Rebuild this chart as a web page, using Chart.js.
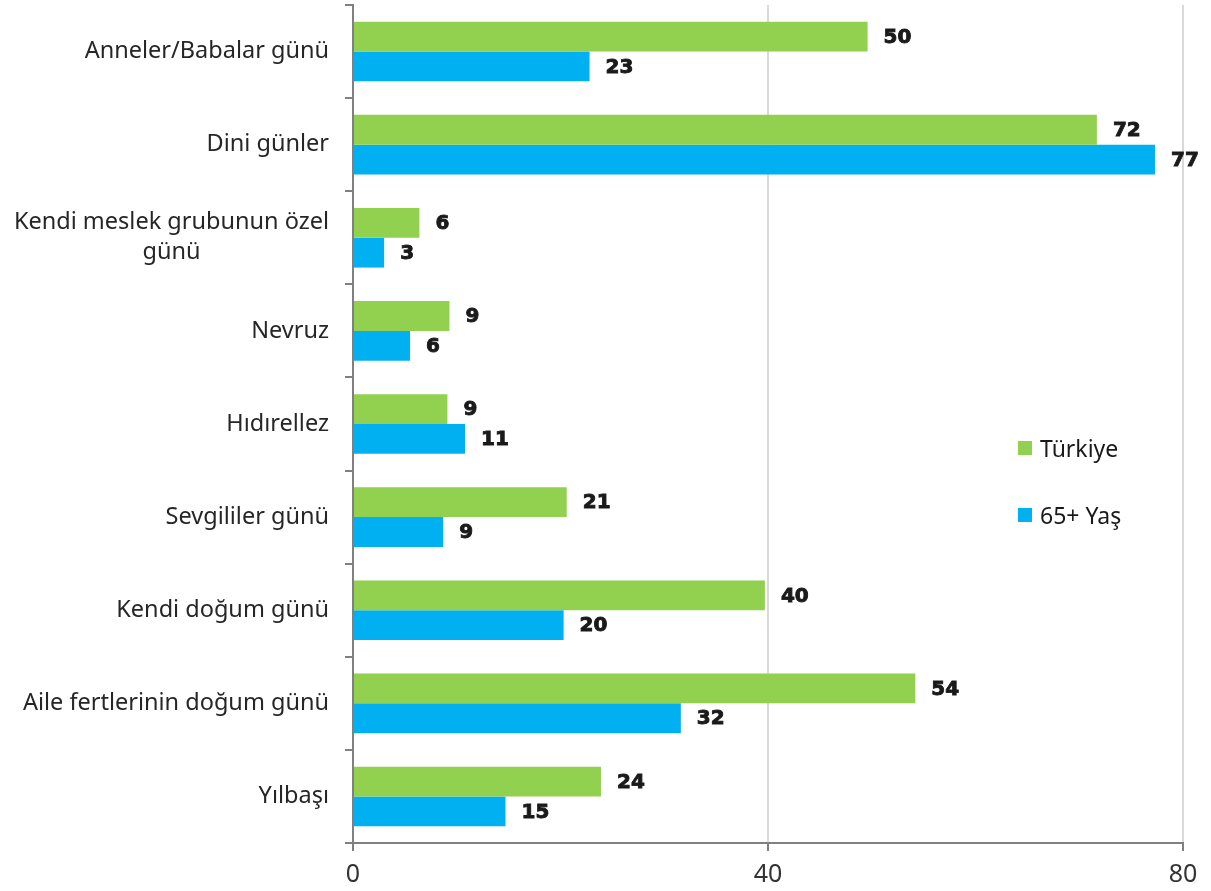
<!DOCTYPE html>
<html>
<head>
<meta charset="utf-8">
<script src="https://cdn.jsdelivr.net/npm/chart.js@4/dist/chart.umd.min.js"></script>
<style>
  html, body { margin: 0; padding: 0; background: #ffffff; }
  #wrap { position: relative; width: 1211px; height: 891px; }
  #legend { position: absolute; left: 1018px; top: 432px; font-family: "Noto Sans", sans-serif; font-size: 23px; color: #1a1a1a; }
  #legend .item { display: flex; align-items: center; height: 32px; margin-bottom: 35px; }
  #legend .sw { width: 14px; height: 14px; margin-right: 8px; }
</style>
</head>
<body>
<div id="wrap">
  <canvas id="c" width="1211" height="891"></canvas>
  <div id="legend"></div>
</div>
<script>
const categories = [
  "Anneler/Babalar günü",
  "Dini günler",
  ["Kendi meslek grubunun özel", "günü"],
  "Nevruz",
  "Hıdırellez",
  "Sevgililer günü",
  "Kendi doğum günü",
  "Aile fertlerinin doğum günü",
  "Yılbaşı"
];
const seriesNames = ["Türkiye", "65+ Yaş"];
const turkiye = [49.6, 71.7, 6.4, 9.3, 9.1, 20.6, 39.7, 54.2, 23.9];
const yas65 = [22.8, 77.3, 3.0, 5.5, 10.8, 8.7, 20.3, 31.6, 14.7];
const xTicks = [0, 40, 80];
const colors = ["#92d050", "#00b0f0"];

const labelFont = '"Noto Sans", sans-serif';

const catLabelPlugin = {
  id: 'catLabels',
  afterDraw(chart) {
    const ctx = chart.ctx;
    const y = chart.scales.y;
    ctx.save();
    ctx.font = '23.5px ' + labelFont;
    ctx.fillStyle = '#262626';
    ctx.textBaseline = 'middle';
    ctx.textAlign = 'center';
    const right = y.right - 24;
    const lh = 30;
    categories.forEach((lab, i) => {
      const lines = Array.isArray(lab) ? lab : [lab];
      const maxW = Math.max(...lines.map(l => ctx.measureText(l).width));
      const cx = right - maxW / 2;
      const cy = y.getPixelForValue(i);
      const startY = cy - (lines.length - 1) * lh / 2;
      lines.forEach((l, k) => ctx.fillText(l, cx, startY + k * lh));
    });
    ctx.restore();
  }
};

const valueLabelPlugin = {
  id: 'valueLabels',
  afterDatasetsDraw(chart) {
    const ctx = chart.ctx;
    ctx.save();
    ctx.font = 'bold 20px "DejaVu Sans", sans-serif';
    ctx.fillStyle = '#1a1a1a';
    ctx.strokeStyle = '#1a1a1a';
    ctx.lineWidth = 0.9;
    ctx.textBaseline = 'middle';
    ctx.textAlign = 'left';
    chart.data.datasets.forEach((ds, di) => {
      const meta = chart.getDatasetMeta(di);
      meta.data.forEach((bar, i) => {
        const t = String(Math.round(ds.data[i]));
        ctx.fillText(t, bar.x + 16, bar.y + 1);
        ctx.strokeText(t, bar.x + 16, bar.y + 1);
      });
    });
    ctx.restore();
  }
};

const chart = new Chart(document.getElementById('c'), {
  type: 'bar',
  data: {
    labels: categories,
    datasets: [
      { label: seriesNames[0], data: turkiye, backgroundColor: colors[0], categoryPercentage: 0.64, barPercentage: 1.0 },
      { label: seriesNames[1], data: yas65, backgroundColor: colors[1], categoryPercentage: 0.64, barPercentage: 1.0 }
    ]
  },
  options: {
    indexAxis: 'y',
    responsive: false,
    animation: false,
    layout: { padding: { top: 5, right: 28, left: 0, bottom: 0 } },
    plugins: { legend: { display: false }, tooltip: { enabled: false } },
    scales: {
      x: {
        min: 0, max: 80,
        afterBuildTicks(scale) { scale.ticks = xTicks.map(v => ({ value: v })); },
        grid: {
          color: ctx => ctx.tick && ctx.tick.value === 0 ? 'rgba(0,0,0,0)' : '#d9d9d9',
          lineWidth: 2,
          tickColor: '#808080',
          tickLength: 8,
          drawTicks: true
        },
        border: { display: true, color: '#808080', width: 2 },
        ticks: { font: { family: labelFont, size: 25 }, color: '#333333', padding: 9, maxRotation: 0 },
        afterFit(scale) { scale.height = 48; }
      },
      y: {
        offset: true,
        grid: {
          offset: true,
          drawOnChartArea: false,
          drawTicks: true,
          tickLength: 8,
          tickColor: '#808080',
          lineWidth: 2
        },
        border: { display: true, color: '#808080', width: 2 },
        ticks: { display: false },
        afterFit(scale) { scale.width = 353; }
      }
    }
  },
  plugins: [catLabelPlugin, valueLabelPlugin]
});

const leg = document.getElementById('legend');
seriesNames.forEach((n, i) => {
  const d = document.createElement('div');
  d.className = 'item';
  d.innerHTML = '<span class="sw" style="background:' + colors[i] + '"></span><span>' + n + '</span>';
  leg.appendChild(d);
});
</script>
</body>
</html>
